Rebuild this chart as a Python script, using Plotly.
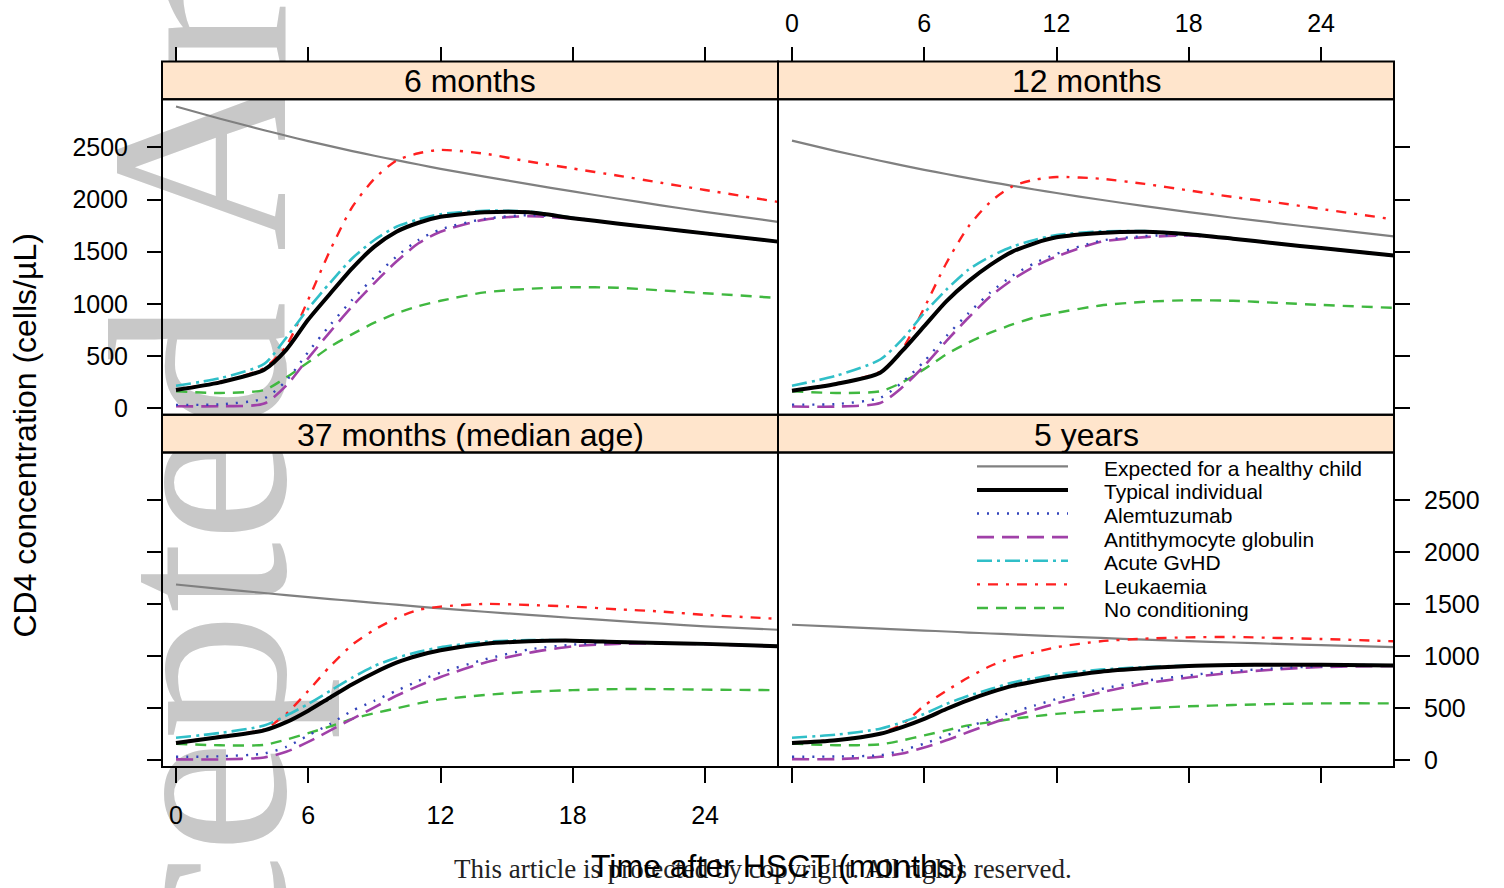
import plotly.graph_objects as go

W, H = 1504, 888

# ---------------- data ----------------
months = [0, 2, 4, 5, 6, 7, 8, 9, 10, 11, 12, 14, 16, 18, 20, 22, 24, 27.3]
x_ticks = [0, 6, 12, 18, 24]
y_ticks = [0, 500, 1000, 1500, 2000, 2500]

panel_titles = ["6 months", "12 months", "37 months (median age)", "5 years"]
series_names = ["Expected for a healthy child", "Typical individual", "Alemtuzumab",
                "Antithymocyte globulin", "Acute GvHD", "Leukaemia", "No conditioning"]

healthy_6m = [2892, 2775, 2665, 2612, 2560, 2512, 2465, 2420, 2378, 2336, 2295, 2220, 2148, 2078, 2010, 1945, 1882, 1787]
typical_6m = [175, 248, 370, 560, 850, 1100, 1343, 1549, 1692, 1778, 1835, 1878, 1878, 1822, 1771, 1724, 1676, 1597]
alem_6m = [32, 38, 95, 263, 540, 800, 1041, 1257, 1454, 1613, 1714, 1815, 1850, 1825, 1771, 1724, 1676, 1597]
atg_6m = [19, 19, 45, 216, 480, 735, 978, 1200, 1406, 1581, 1692, 1808, 1841, 1818, 1771, 1724, 1676, 1597]
gvhd_6m = [216, 288, 425, 676, 955, 1205, 1438, 1613, 1740, 1810, 1860, 1893, 1885, 1825, 1771, 1724, 1676, 1597]
leuk_6m = [178, 252, 385, 597, 1041, 1517, 1930, 2200, 2374, 2444, 2476, 2440, 2365, 2298, 2231, 2161, 2092, 1978]
nocond_6m = [162, 146, 175, 295, 440, 590, 710, 820, 910, 978, 1030, 1110, 1145, 1160, 1155, 1130, 1102, 1057]

healthy_12m = [2565, 2465, 2372, 2328, 2285, 2245, 2206, 2168, 2132, 2097, 2063, 1998, 1937, 1880, 1826, 1775, 1726, 1647]
typical_12m = [168, 232, 340, 549, 787, 1025, 1216, 1374, 1501, 1581, 1638, 1680, 1692, 1668, 1625, 1579, 1535, 1463]
alem_12m = [35, 40, 100, 248, 450, 690, 910, 1110, 1270, 1390, 1480, 1605, 1650, 1660, 1625, 1579, 1535, 1463]
atg_12m = [16, 16, 50, 200, 406, 644, 867, 1073, 1232, 1359, 1454, 1595, 1640, 1655, 1625, 1579, 1535, 1463]
gvhd_12m = [216, 311, 467, 660, 914, 1136, 1327, 1454, 1549, 1613, 1660, 1695, 1698, 1670, 1625, 1579, 1535, 1463]
leuk_12m = [172, 236, 350, 565, 962, 1390, 1740, 1978, 2127, 2190, 2216, 2200, 2150, 2088, 2025, 1971, 1910, 1810]
nocond_12m = [162, 146, 162, 248, 375, 517, 629, 724, 803, 870, 914, 985, 1020, 1035, 1030, 1010, 990, 962]

healthy_37m = [1692, 1650, 1610, 1590, 1571, 1552, 1534, 1516, 1498, 1480, 1462, 1430, 1400, 1370, 1342, 1315, 1290, 1257]
typical_37m = [168, 225, 289, 368, 479, 606, 733, 844, 940, 1009, 1060, 1121, 1146, 1152, 1140, 1130, 1121, 1098]
alem_37m = [35, 40, 67, 130, 241, 352, 479, 574, 670, 765, 844, 971, 1067, 1114, 1132, 1130, 1121, 1098]
atg_37m = [10, 10, 29, 83, 178, 289, 400, 511, 622, 717, 803, 940, 1035, 1098, 1121, 1125, 1118, 1097]
gvhd_37m = [219, 264, 336, 432, 543, 670, 797, 908, 987, 1044, 1089, 1140, 1158, 1155, 1140, 1130, 1121, 1098]
leuk_37m = [172, 230, 300, 448, 670, 908, 1114, 1257, 1368, 1448, 1479, 1505, 1495, 1479, 1454, 1432, 1400, 1362]
nocond_37m = [160, 146, 150, 200, 263, 327, 400, 454, 501, 549, 587, 629, 660, 676, 686, 686, 681, 676]

healthy_60m = [1305, 1286, 1267, 1258, 1249, 1240, 1230, 1221, 1212, 1203, 1194, 1178, 1162, 1147, 1134, 1121, 1109, 1090]
typical_60m = [168, 194, 257, 321, 400, 495, 581, 654, 717, 760, 797, 854, 886, 908, 917, 921, 921, 914]
alem_60m = [35, 38, 51, 98, 162, 241, 321, 400, 463, 528, 590, 686, 765, 819, 860, 886, 905, 912]
atg_60m = [13, 13, 35, 67, 124, 194, 273, 352, 422, 487, 549, 654, 740, 797, 844, 876, 898, 908]
gvhd_60m = [219, 248, 305, 368, 448, 543, 622, 686, 749, 790, 829, 873, 898, 912, 917, 921, 921, 914]
leuk_60m = [172, 198, 262, 350, 527, 670, 797, 908, 987, 1040, 1089, 1146, 1171, 1184, 1187, 1178, 1168, 1146]
nocond_60m = [162, 146, 155, 193, 241, 289, 337, 368, 400, 425, 448, 479, 502, 521, 533, 543, 549, 549]

panel_data = [
    [healthy_6m, typical_6m, alem_6m, atg_6m, gvhd_6m, leuk_6m, nocond_6m],
    [healthy_12m, typical_12m, alem_12m, atg_12m, gvhd_12m, leuk_12m, nocond_12m],
    [healthy_37m, typical_37m, alem_37m, atg_37m, gvhd_37m, leuk_37m, nocond_37m],
    [healthy_60m, typical_60m, alem_60m, atg_60m, gvhd_60m, leuk_60m, nocond_60m],
]

# ---------------- styles ----------------
line_styles = [
    dict(color="#808080", width=2.2, dash="solid"),
    dict(color="#000000", width=4, dash="solid"),
    dict(color="#3344BB", width=2.4, dash="2px,8px"),
    dict(color="#A040A8", width=2.6, dash="17px,8px"),
    dict(color="#30BFC8", width=2.6, dash="15px,5px,3px,5px"),
    dict(color="#FF2020", width=2.4, dash="3px,8px,10px,8px"),
    dict(color="#40B840", width=2.4, dash="11px,8px"),
]
draw_order = [0, 6, 5, 4, 3, 2, 1]

FONT = "Liberation Sans, Arial, sans-serif"
SERIF = "Liberation Serif, Times New Roman, serif"
STRIP_BG = "#FFE5CC"

# panel geometry in pixels
col_x = [(162, 778), (778, 1394)]
row_y = [(100, 418), (456, 773)]   # plot areas
strip_y = [(62, 100), (418, 456)]


def fx(px):
    return px / W


def fy(py):
    return 1 - py / H


fig = go.Figure()

for p in range(4):
    r, c = divmod(p, 2)
    sfx = "" if p == 0 else str(p + 1)
    for i in draw_order:
        st = line_styles[i]
        fig.add_trace(go.Scatter(
            x=months, y=panel_data[p][i], mode="lines",
            line=dict(color=st["color"], width=st["width"], dash=st["dash"],
                      shape="spline", smoothing=0.7),
            xaxis="x" + sfx, yaxis="y" + sfx, showlegend=False, hoverinfo="skip"))

layout = dict(width=W, height=H, margin=dict(l=0, r=0, t=0, b=0),
              paper_bgcolor="white", plot_bgcolor="rgba(0,0,0,0)",
              showlegend=False, font=dict(family=FONT, color="black"))

for p in range(4):
    r, c = divmod(p, 2)
    sfx = "" if p == 0 else str(p + 1)
    x0, x1 = col_x[c]
    y0, y1 = row_y[r]
    top = r == 0
    layout["xaxis" + sfx] = dict(
        domain=[fx(x0), fx(x1)], range=[-0.635, 27.31],
        tickvals=x_ticks, ticks="outside", ticklen=15, tickwidth=1.6, tickcolor="black",
        showgrid=False, zeroline=False, showline=False,
        side="top" if top else "bottom", anchor="free",
        position=fy(strip_y[0][0]) if top else fy(row_y[1][1]),
        showticklabels=(p in (1, 2)), tickfont=dict(size=25, family=FONT),
        ticklabelstandoff=5 if top else 11)
    layout["yaxis" + sfx] = dict(
        domain=[fy(y1), fy(y0)], range=[-62, 2962],
        tickvals=y_ticks, ticks="outside", ticklen=15, tickwidth=1.6, tickcolor="black",
        showgrid=False, zeroline=False, showline=False,
        side="left" if c == 0 else "right", anchor="free",
        position=fx(col_x[0][0]) if c == 0 else fx(col_x[1][1]),
        showticklabels=(p in (0, 3)), tickfont=dict(size=25, family=FONT),
        ticklabelstandoff=14 if c == 0 else 9)

shapes = []
# watermark (below everything)
wm_x, wm_y = 171, 407
shapes.append(dict(type="rect", xref="paper", yref="paper",
                   x0=fx(wm_x - 6), x1=fx(wm_x + 6), y0=fy(wm_y + 6), y1=fy(wm_y - 6),
                   line=dict(width=0), fillcolor="rgba(0,0,0,0)", layer="below",
                   label=dict(text="Accepted Article", textangle=-90,
                              font=dict(family=SERIF, size=255, color="#C8C8C8"),
                              textposition="middle center")))
annotations = []
for p in range(4):
    r, c = divmod(p, 2)
    x0, x1 = col_x[c]
    s0, s1 = strip_y[r]
    shapes.append(dict(type="rect", xref="paper", yref="paper",
                       x0=fx(x0), x1=fx(x1), y0=fy(s1), y1=fy(s0),
                       fillcolor=STRIP_BG, line=dict(color="black", width=2), layer="below"))
    y0, y1 = row_y[r]
    shapes.append(dict(type="rect", xref="paper", yref="paper",
                       x0=fx(x0), x1=fx(x1), y0=fy(y1), y1=fy(y0),
                       fillcolor="rgba(0,0,0,0)", line=dict(color="black", width=2), layer="above"))
    annotations.append(dict(text=panel_titles[p], xref="paper", yref="paper",
                            x=fx((x0 + x1) / 2), y=fy((s0 + s1) / 2 + 1),
                            xanchor="center", yanchor="middle", showarrow=False,
                            font=dict(size=32, family=FONT, color="black")))

# legend (key) inside the "5 years" panel
for i, name in enumerate(series_names):
    st = line_styles[i]
    yc = 472 + i * 23.8
    shapes.append(dict(type="line", xref="paper", yref="paper",
                       x0=fx(977), x1=fx(1068), y0=fy(yc - 2), y1=fy(yc - 2),
                       line=dict(color=st["color"], width=st["width"], dash=st["dash"]),
                       layer="above"))
    annotations.append(dict(text=name, xref="paper", yref="paper",
                            x=fx(1102), y=fy(yc), xanchor="left", yanchor="middle",
                            showarrow=False, font=dict(size=21, family=FONT, color="black")))

# footer and axis titles
annotations.append(dict(text="This article is protected by copyright. All rights reserved.",
                        xref="paper", yref="paper", x=fx(763), y=fy(876),
                        xanchor="center", yanchor="middle", showarrow=False,
                        font=dict(size=27, family=SERIF, color="#222222")))
annotations.append(dict(text="Time after HSCT (months)", xref="paper", yref="paper",
                        x=fx(777), y=fy(873), xanchor="center", yanchor="middle",
                        showarrow=False, font=dict(size=32, family=FONT, color="black")))
annotations.append(dict(text="CD4 concentration (cells/\u00b5L)", xref="paper", yref="paper",
                        x=fx(25), y=fy(439), xanchor="center", yanchor="middle",
                        textangle=-90, showarrow=False,
                        font=dict(size=32, family=FONT, color="black")))

layout["shapes"] = shapes
layout["annotations"] = annotations
fig.update_layout(**layout)

fig.write_html("out.html", config={"displayModeBar": False},
               post_script="document.body.style.margin='0';")
